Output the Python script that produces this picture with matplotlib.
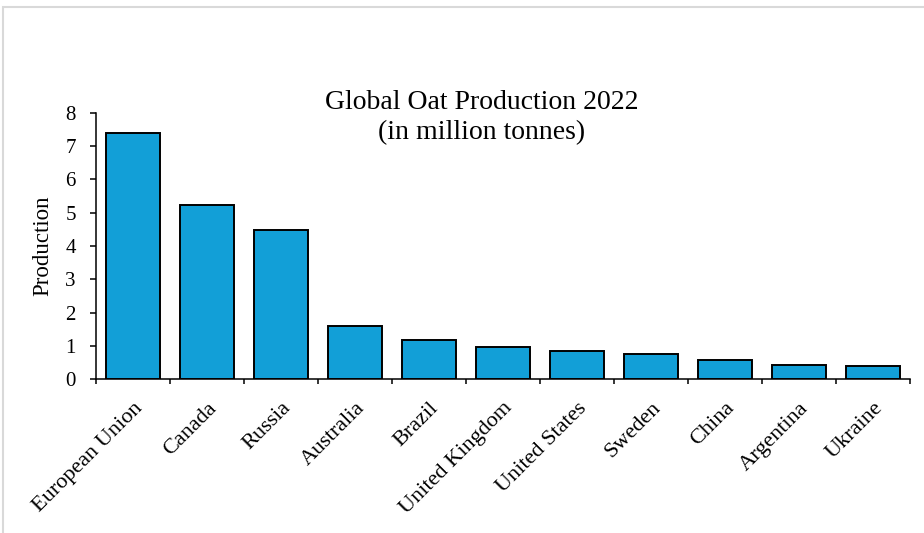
import matplotlib
matplotlib.use("Agg")
import matplotlib.pyplot as plt
from matplotlib.patches import Rectangle
import numpy as np

countries = ["European Union", "Canada", "Russia", "Australia", "Brazil",
             "United Kingdom", "United States", "Sweden", "China",
             "Argentina", "Ukraine"]
production = [7.4, 5.22, 4.49, 1.6, 1.17, 0.98, 0.84, 0.75, 0.59, 0.42, 0.39]
y_ticks = [0, 1, 2, 3, 4, 5, 6, 7, 8]

plt.rcParams["font.family"] = ["Liberation Serif", "DejaVu Serif"]

W, H = 924, 533
fig = plt.figure(figsize=(W / 100, H / 100), dpi=100)

# light grey frame around the chart area
fig.patches.append(Rectangle((3 / W, -0.05), 1.1, 1 - 7 / H + 0.05,
                             transform=fig.transFigure, fill=False,
                             edgecolor="#d9d9d9", linewidth=1.5))

ax = fig.add_axes([96 / W, 1 - 379.3 / H, (910 - 96) / W, (379.3 - 112.7) / H])
x = np.arange(len(countries))
ax.bar(x, production, width=0.72, color="#129fd7", edgecolor="black",
       linewidth=1.4, zorder=2)

ax.set_xlim(-0.5, len(countries) - 0.5)
ax.set_ylim(0, 8)
ax.set_yticks(y_ticks)
ax.tick_params(axis="y", direction="out", length=4.5, width=1.1,
               labelsize=15, pad=10)

# tick marks between categories, labels at bar centres
ax.set_xticks(np.arange(-0.5, len(countries), 1.0))
ax.set_xticklabels([])
ax.tick_params(axis="x", which="major", direction="out", length=3.5, width=1.1)
ax.set_xticks(x, minor=True)
ax.set_xticklabels(countries, minor=True, rotation=45, ha="right",
                   rotation_mode="anchor", fontsize=16)
ax.tick_params(axis="x", which="minor", length=0, pad=14)

for s in ["top", "right"]:
    ax.spines[s].set_visible(False)
for s in ["left", "bottom"]:
    ax.spines[s].set_linewidth(1.1)

ax.set_ylabel("Production", fontsize=16.5)
ax.yaxis.set_label_coords(-0.052, 0.5)

fig.text(482 / W, 1 - 117.5 / H, "Global Oat Production 2022\n(in million tonnes)",
         ha="center", va="center", fontsize=20, linespacing=1.3)

fig.savefig("out.png", dpi=100)
